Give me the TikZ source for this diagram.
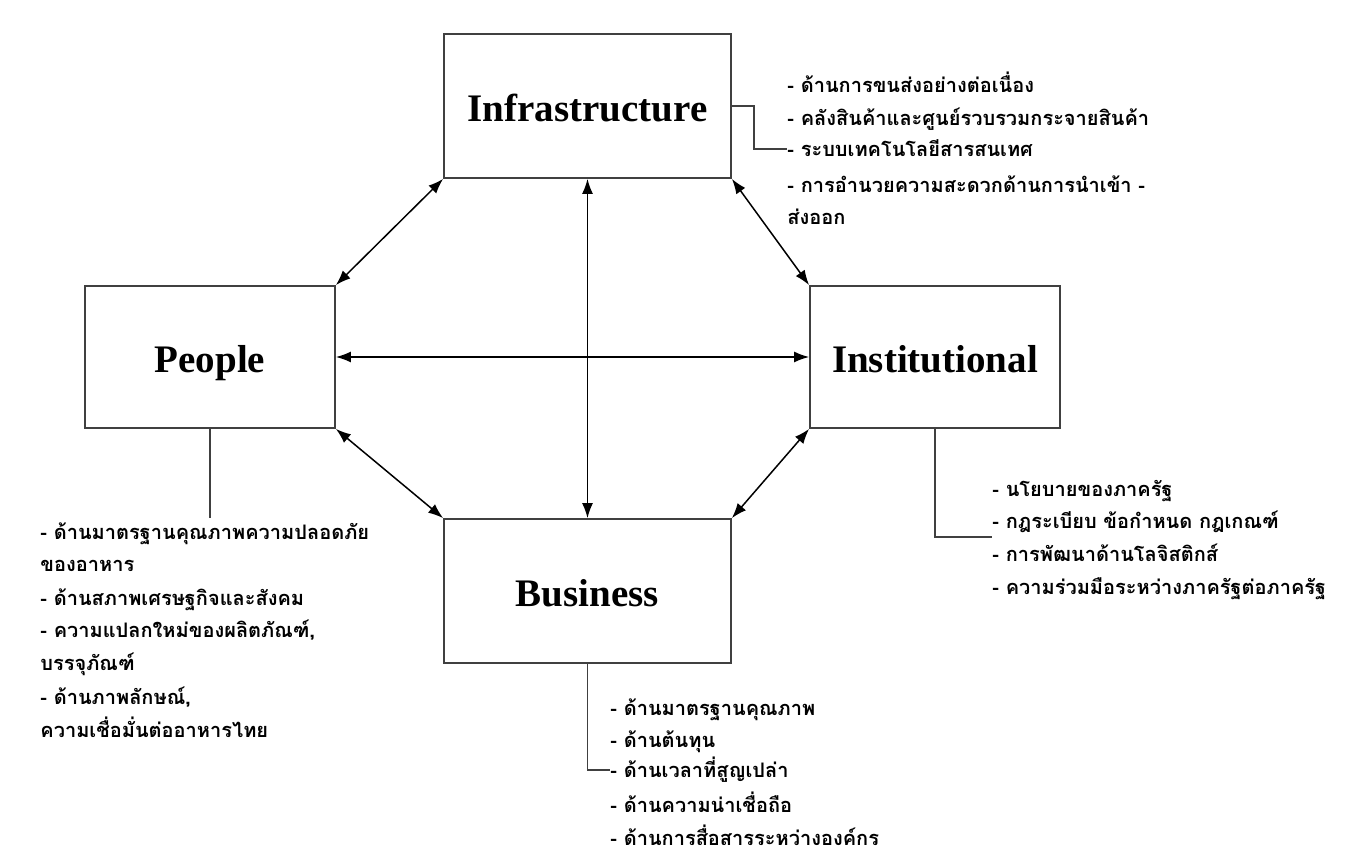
\documentclass[tikz,border=0pt]{standalone}
\usepackage{fontspec}
\setmainfont{Liberation Serif}
\newfontfamily\thaifont[Script=Thai]{Loma}
\usetikzlibrary{positioning,arrows.meta}

\begin{document}
\begin{tikzpicture}[x=0.5pt, y=-0.5pt, >={Latex[length=7.5pt,width=5.5pt]},
    box/.style={draw=black!75, line width=0.9pt, inner sep=0pt, text height=20pt, text depth=4pt, font=\fontsize{19.5}{22}\selectfont\bfseries},
    item/.style={anchor=base west, align=left, inner sep=0pt, font=\thaifont\bfseries\fontsize{10}{16.25}\selectfont},
    link/.style={<->, line width=0.75pt},
    tie/.style={draw=black!75, line width=0.8pt}]
    \useasboundingbox (0,0) rectangle (1348,854);

    \node[box, minimum width=143.5pt, minimum height=72pt] (infra) at (587.5,106) {Infrastructure};
    \node[box, minimum width=125pt, minimum height=71pt] (people) at (210,357) {People};
    \node[box, minimum width=125pt, minimum height=71pt] (inst) at (935,357) {Institutional};
    \node[box, minimum width=143.5pt, minimum height=72pt] (business) at (587.5,591) {Business};

    \draw[link] (infra.south west) -- (people.north east);
    \draw[link] (infra.south east) -- (inst.north west);
    \draw[link] (people.south east) -- (business.north west);
    \draw[link] (inst.south west) -- (business.north east);
    \draw[link] (infra.south) -- (business.north);
    \draw[link] (people.east) -- (inst.west);

    % Infrastructure
    \node[item] (inf1) at (787,93) {- ด้านการขนส่งอย่างต่อเนื่อง};
    \node[item] (inf2) at (787,126) {- คลังสินค้าและศูนย์รวบรวมกระจายสินค้า};
    \node[item] (inf3) at (787,157) {- ระบบเทคโนโลยีสารสนเทศ};
    \node[item] (inf4) at (787,225) {- การอำนวยความสะดวกด้านการนำเข้า -\\ส่งออก};
    \coordinate (infTie) at (754,149);
    \draw[tie] (infra.east) -| (infTie) -- (inf3.west |- infTie);

    % People
    \node[item] (peo1) at (40,572) {- ด้านมาตรฐานคุณภาพความปลอดภัย\\ของอาหาร};
    \node[item] (peo2) at (40,605) {- ด้านสภาพเศรษฐกิจและสังคม};
    \node[item] (peo3) at (40,670) {- ความแปลกใหม่ของผลิตภัณฑ์,\\บรรจุภัณฑ์};
    \node[item] (peo4) at (40,737) {- ด้านภาพลักษณ์,\\ความเชื่อมั่นต่ออาหารไทย};
    \coordinate (peoTie) at (210,518);
    \draw[tie] (people.south) -- (peoTie);

    % Institutional
    \node[item] (ins1) at (992,497) {- นโยบายของภาครัฐ};
    \node[item] (ins2) at (992,529) {- กฎระเบียบ ข้อกำหนด กฎเกณฑ์};
    \node[item] (ins3) at (992,562) {- การพัฒนาด้านโลจิสติกส์};
    \node[item] (ins4) at (992,595) {- ความร่วมมือระหว่างภาครัฐต่อภาครัฐ};
    \coordinate (insTie) at (935,537);
    \draw[tie] (inst.south) -- (insTie) -- (ins2.west |- insTie);

    % Business
    \node[item] (bus1) at (610,715) {- ด้านมาตรฐานคุณภาพ};
    \node[item] (bus2) at (610,747) {- ด้านต้นทุน};
    \node[item] (bus3) at (610,777) {- ด้านเวลาที่สูญเปล่า};
    \node[item] (bus4) at (610,812) {- ด้านความน่าเชื่อถือ};
    \node[item] (bus5) at (610,845) {- ด้านการสื่อสารระหว่างองค์กร};
    \coordinate (busTie) at (587.5,770);
    \draw[tie] (business.south) -- (busTie) -- (bus3.west |- busTie);
\end{tikzpicture}
\end{document}
